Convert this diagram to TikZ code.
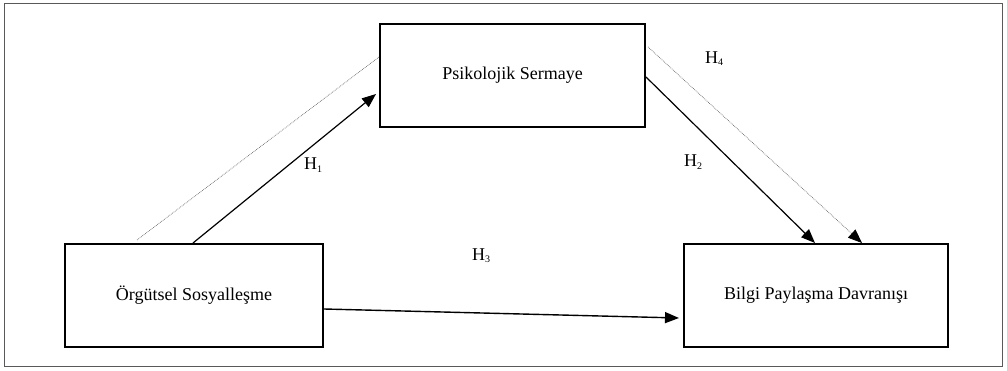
\documentclass[tikz,border=0pt]{standalone}
\usepackage{fontspec}
\setmainfont{Liberation Serif}
\usetikzlibrary{calc,arrows.meta}
\begin{document}
\begin{tikzpicture}[x=1pt,y=-1pt,
  box/.style={draw=black,line width=2pt,inner sep=0pt,minimum height=103pt,font=\fontsize{18}{20}\selectfont},
  hyp/.style={font=\fontsize{18}{20}\selectfont,inner sep=0pt},
  solidarrow/.style={draw=black,line width=1.2pt,-{Triangle[length=14pt,width=11pt]}},
  dotline/.style={draw=black!60,line width=0.7pt,densely dotted},
  dotarrow/.style={dotline,-{Triangle[length=14pt,width=11pt,color=black]}}]
\useasboundingbox (0,0) rectangle (1007,371);
\node[draw=black!65,line width=1pt,minimum width=998pt,minimum height=363pt,inner sep=0pt] (frame) at (503.5,185.5) {};
\node[box,minimum width=265pt] (ps) at (512.5,75.5) {Psikolojik Sermaye};
\node[box,minimum width=258pt] (os) at (194,295.5) {Örgütsel Sosyalleşme};
\node[box,minimum width=264pt] (bp) at (816,295.5) {Bilgi Paylaşma Davranışı};
% connector end points
\coordinate (h1s) at ($(os.north)+(-1,0)$);
\coordinate (h1e) at ($(ps.west)+(-3,18.5)$);
\coordinate (d1s) at ($(os.north west)+(73,-3)$);
\coordinate (d1e) at ($(ps.west)+(0,-18.5)$);
\coordinate (h2s) at ($(ps.east)+(0,1.5)$);
\coordinate (h2e) at ($(bp.north)+(-1,0)$);
\coordinate (h4s) at ($(ps.east)+(2,-28.5)$);
\coordinate (h4e) at ($(bp.north)+(46,0)$);
\coordinate (h3s) at ($(os.east)+(0,13.5)$);
\coordinate (h3e) at ($(bp.west)+(-4,22.5)$);
\draw[dotline] (d1s) -- (d1e);
\draw[solidarrow] (h1s) -- (h1e);
\draw[solidarrow] (h2s) -- (h2e);
\draw[dotarrow] (h4s) -- (h4e);
\draw[solidarrow,line width=1.4pt] (h3s) -- (h3e);
\node[hyp] (l1) at (313,165) {H\raisebox{-0.45ex}{\fontsize{10}{10}\selectfont 1}};
\node[hyp] (l2) at (693,162) {H\raisebox{-0.45ex}{\fontsize{10}{10}\selectfont 2}};
\node[hyp] (l3) at (481,256) {H\raisebox{-0.25ex}{\fontsize{10}{10}\selectfont 3}};
\node[hyp] (l4) at (714,59) {H\raisebox{-0.25ex}{\fontsize{10}{10}\selectfont 4}};
\end{tikzpicture}
\end{document}
